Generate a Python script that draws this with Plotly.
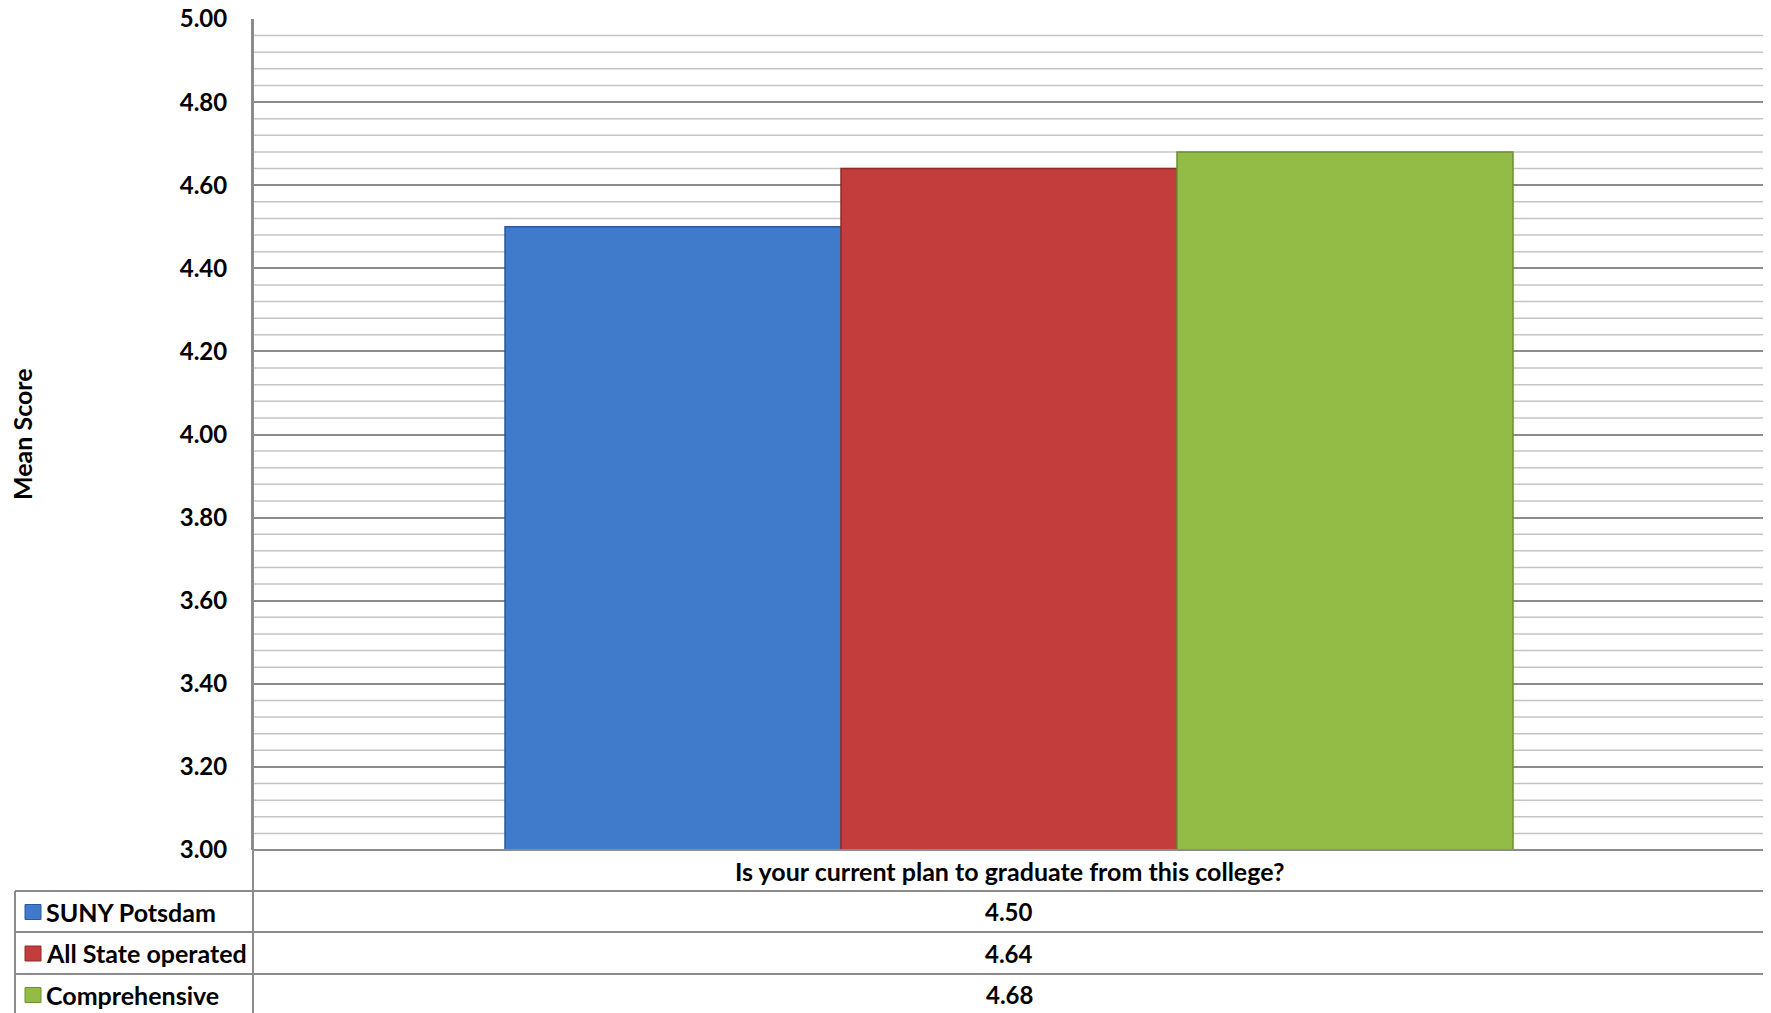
import plotly.graph_objects as go

question = "Is your current plan to graduate from this college?"
series = ["SUNY Potsdam", "All State operated", "Comprehensive"]
values = [4.50, 4.64, 4.68]
value_labels = ["4.50", "4.64", "4.68"]
colors = ["#3F7ACB", "#C23D3B", "#93BC46"]
line_colors = ["#2D5A96", "#8E2C2A", "#6D8E32"]
y_ticks = [3.0, 3.2, 3.4, 3.6, 3.8, 4.0, 4.2, 4.4, 4.6, 4.8, 5.0]

FONT = "Lato, 'Open Sans', sans-serif"

# page body has an 8px margin, so the figure is drawn offset by 8px
OFF = 8
W, H = 1771, 1013
SL, ST, SR, SB = 253, 19, 1765, 850
ML = SL - OFF
MT = ST - OFF
MR = W - (SR - OFF)
MB = H - (SB - OFF)
PW = SR - SL
PH = SB - ST

def px_x(sx):
    return (sx - SL) / PW

def px_y(sy):
    return (SB - sy) / PH

fig = go.Figure()
for s, v, c, lc in zip(series, values, colors, line_colors):
    fig.add_trace(go.Bar(
        x=[question], y=[v - 3.0], base=3.0, name=s,
        marker=dict(color=c, line=dict(color=lc, width=1.5)),
        showlegend=False,
    ))

shapes = []
minor = [3.0 + 0.04 * i for i in range(51)]
for m in minor:
    if abs(round(m / 0.2) * 0.2 - m) > 1e-6:
        shapes.append(dict(type="line", xref="paper", yref="y", x0=0, x1=1, y0=m, y1=m,
                           line=dict(color="#C4C4C4", width=1.5), layer="below"))

grey = "#8C8C8C"
row_lines = [850, 891, 932, 974, 1015]
shapes.append(dict(type="line", xref="paper", yref="paper", x0=0, x1=1,
                   y0=px_y(850), y1=px_y(850), line=dict(color=grey, width=2)))
for r in row_lines[1:]:
    shapes.append(dict(type="line", xref="paper", yref="paper", x0=px_x(15), x1=1,
                       y0=px_y(r), y1=px_y(r), line=dict(color=grey, width=2)))
shapes.append(dict(type="line", xref="paper", yref="paper", x0=0, x1=0,
                   y0=1, y1=px_y(1015), line=dict(color=grey, width=2)))
shapes.append(dict(type="line", xref="paper", yref="paper", x0=1, x1=1,
                   y0=px_y(850), y1=px_y(1015), line=dict(color=grey, width=2)))
shapes.append(dict(type="line", xref="paper", yref="paper", x0=px_x(15), x1=px_x(15),
                   y0=px_y(891), y1=px_y(1015), line=dict(color=grey, width=2)))

annotations = []
annotations.append(dict(text="<b>" + question + "</b>", xref="paper", yref="paper",
                        x=0.5, y=px_y(870.5), xanchor="center", yanchor="middle",
                        showarrow=False, font=dict(family=FONT, size=25, color="#000")))
for i, (s, vl, c, lc) in enumerate(zip(series, value_labels, colors, line_colors)):
    top, bot = row_lines[i + 1], row_lines[i + 2]
    cy = (top + bot) / 2 if i < 2 else top + 20.5
    shapes.append(dict(type="rect", xref="paper", yref="paper",
                       x0=px_x(25), x1=px_x(41), y0=px_y(cy - 7), y1=px_y(cy + 8),
                       fillcolor=c, line=dict(color=lc, width=1)))
    annotations.append(dict(text="<b>" + s + "</b>", xref="paper", yref="paper",
                            x=px_x(44), y=px_y(cy), xanchor="left", yanchor="middle",
                            showarrow=False, font=dict(family=FONT, size=25, color="#000")))
    annotations.append(dict(text="<b>" + vl + "</b>", xref="paper", yref="paper",
                            x=px_x(1009), y=px_y(cy), xanchor="center", yanchor="middle",
                            showarrow=False, font=dict(family=FONT, size=24, color="#000")))

annotations.append(dict(text="<b>Mean Score</b>", xref="paper", yref="paper",
                        x=px_x(22), y=px_y(434), textangle=-90, xanchor="center",
                        yanchor="middle", showarrow=False,
                        font=dict(family=FONT, size=25, color="#000")))

fig.update_layout(
    width=W, height=H,
    margin=dict(l=ML, r=MR, t=MT, b=MB, autoexpand=False),
    paper_bgcolor="white", plot_bgcolor="white",
    barmode="group", bargap=1/3, bargroupgap=0,
    shapes=shapes, annotations=annotations,
    xaxis=dict(showticklabels=False, showgrid=False, zeroline=False, showline=False,
               automargin=False),
    yaxis=dict(range=[3.0, 5.0], tickvals=y_ticks,
               ticktext=[f"<b>{t:.2f}</b>" for t in y_ticks],
               tickfont=dict(family=FONT, size=24, color="#000"),
               showgrid=True, gridcolor="#8C8C8C", gridwidth=1.5,
               zeroline=False, showline=True, linecolor=grey, linewidth=2,
               ticks="", ticklabelstandoff=19, ticklabeloverflow="allow",
               automargin=False),
)

fig.write_html("out.html")
